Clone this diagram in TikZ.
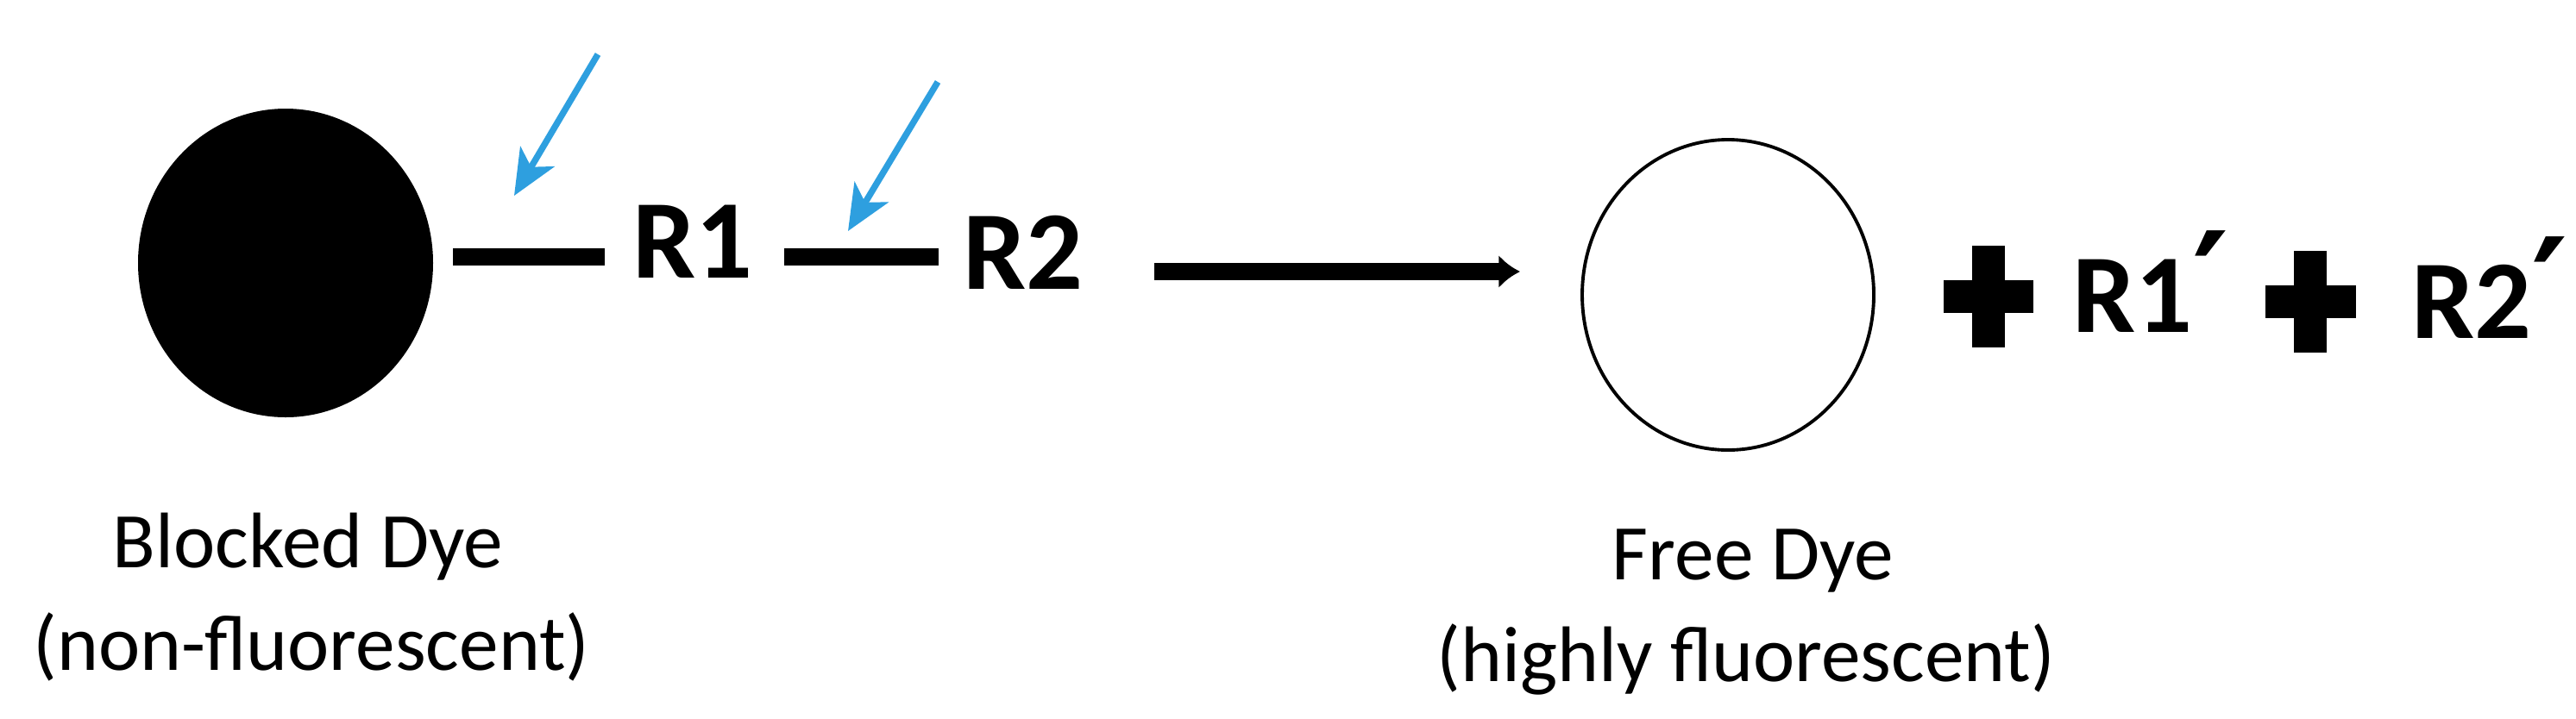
\documentclass[tikz,border=0pt]{standalone}
\usepackage{fontspec}
\setmainfont{Carlito}
\newfontfamily\primefont{DejaVu Sans}
\usetikzlibrary{arrows.meta,shapes.geometric}

\definecolor{cutblue}{RGB}{46,159,223}
\tikzset{
  dye/.style={ellipse,inner sep=0pt},
  group/.style={font=\fontsize{37}{37}\selectfont\bfseries,anchor=base,inner sep=0pt},
  caption/.style={font=\fontsize{26}{26}\selectfont,anchor=base,inner sep=0pt},
  bond/.style={line width=5.6pt},
  cut/.style={draw=cutblue,line width=2.1pt,-{Stealth[length=15pt,width=13pt,inset=4pt]}},
  plusbar/.style={line width=10.8pt}
}
\newcommand{\primemark}{{\primefont\fontsize{46}{46}\selectfont ′}}

\begin{document}
\begin{tikzpicture}
\useasboundingbox (0,0) rectangle (29.86,8.33);

%dyes
\node[dye,fill=black,minimum width=3.42cm,minimum height=3.58cm] (blocked) at (3.31,5.28) {};
\node[dye,draw=black,line width=1.1pt,minimum width=3.38cm,minimum height=3.6cm] (free) at (20.03,4.91) {};

%groups
\node[group] (r1) at (8.03,5.11) {R1};
\node[group] (r2) at (11.86,4.98) {R2};
\node[group] (r1p) at (24.93,4.48) {R1\primemark};
\node[group] (r2p) at (28.86,4.41) {R2\primemark};

%bonds
\coordinate (b1s) at (5.25,5.35);
\coordinate (b1e) at (7.01,5.35);
\coordinate (b2s) at (9.09,5.35);
\coordinate (b2e) at (10.88,5.35);
\draw[bond] (b1s) -- (b1e);
\draw[bond] (b2s) -- (b2e);

%cleavage arrows
\coordinate (c1s) at (6.93,7.70);
\coordinate (c1e) at (5.96,6.06);
\coordinate (c2s) at (10.87,7.38);
\coordinate (c2e) at (9.83,5.65);
\draw[cut] (c1s) -- (c1e);
\draw[cut] (c2s) -- (c2e);

%reaction arrow
\coordinate (rs) at (13.38,5.18);
\coordinate (re) at (17.62,5.18);
\draw[line width=5.8pt,-{Latex[length=7pt,width=11pt]}] (rs) -- (re);

%plus signs
\draw[plusbar] (23.05,4.30) -- (23.05,5.48);
\draw[plusbar] (22.53,4.89) -- (23.57,4.89);
\draw[plusbar] (26.78,4.24) -- (26.78,5.42);
\draw[plusbar] (26.26,4.83) -- (27.31,4.83);

%captions
\node[caption] (bl) at (3.57,1.75) {Blocked Dye};
\node[caption] (nf) at (3.61,.56) {(non-fluorescent)};
\node[caption] (fr) at (20.32,1.61) {Free Dye};
\node[caption] (hf) at (20.24,.43) {(highly fluorescent)};

\end{tikzpicture}
\end{document}
